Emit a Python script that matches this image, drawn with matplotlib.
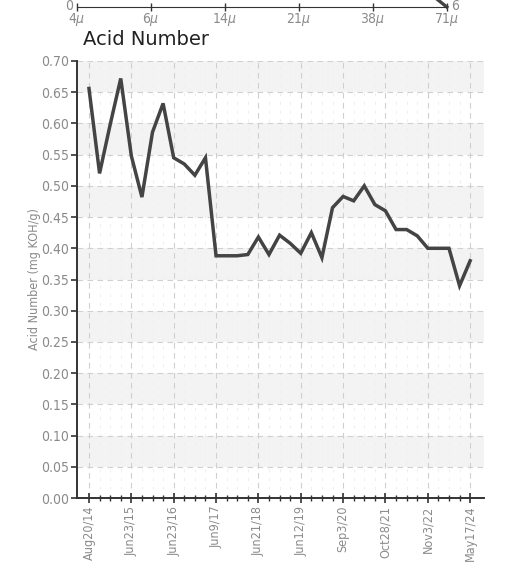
import matplotlib.pyplot as plt
from matplotlib.ticker import MultipleLocator, FixedLocator

# acid number readings (mg KOH/g), one per sample
acid = [0.656, 0.520, 0.598, 0.672, 0.548, 0.482, 0.586, 0.632, 0.545, 0.535,
        0.517, 0.545, 0.388, 0.388, 0.388, 0.390, 0.418, 0.390, 0.421, 0.408,
        0.392, 0.425, 0.385, 0.465, 0.483, 0.476, 0.500, 0.470, 0.460, 0.430,
        0.430, 0.420, 0.400, 0.400, 0.400, 0.340, 0.380]
date_labels = ["Aug20/14", "Jun23/15", "Jun23/16", "Jun9/17", "Jun21/18",
               "Jun12/19", "Sep3/20", "Oct28/21", "Nov3/22", "May17/24"]
label_step = 4

# leftover of the chart above (particle size axis)
upper_labels = ["4$\\mu$", "6$\\mu$", "14$\\mu$", "21$\\mu$", "38$\\mu$", "71$\\mu$"]
upper_line_x = [4.8, 5.0]
upper_line_y = [2.5, 0.0]

plt.rcParams['font.family'] = ['DejaVu Sans']
plt.rcParams['font.stretch'] = 'condensed'
grey = '#8a8a8a'

fig = plt.figure(figsize=(5.08, 5.71), dpi=100)

# ---- main chart
ax = fig.add_axes([0.1516, 0.1278, 0.801, 0.7654])
x = list(range(len(acid)))
ax.set_xlim(-1.13, 37.3)
ax.set_ylim(0, 0.70)

# alternate grey bands
y0 = 0.05
while y0 < 0.70:
    ax.axhspan(y0, y0 + 0.05, color='#f3f3f3', lw=0, zorder=0)
    y0 += 0.10

ax.plot(x, acid, color='#444444', lw=2.5, solid_joinstyle='miter', zorder=3)

ax.yaxis.set_major_locator(MultipleLocator(0.05))
ax.yaxis.set_major_formatter(plt.FuncFormatter(lambda v, p: f"{v:.2f}"))
ax.xaxis.set_major_locator(FixedLocator(list(range(0, len(acid), label_step))))
ax.xaxis.set_minor_locator(FixedLocator(x))
ax.set_xticklabels(date_labels, rotation=90)

ax.grid(axis='y', which='major', color='#d0d0d0', ls=(0, (5, 4)), lw=0.8)
ax.grid(axis='x', which='major', color='#cfcfcf', ls=(0, (5, 4)), lw=0.8)
ax.grid(axis='x', which='minor', color='#eeeeee', ls=(0, (3, 6)), lw=0.7)

ax.tick_params(axis='y', direction='out', length=4, width=1.2, colors='#333333',
               labelcolor=grey, labelsize=10, pad=2)
ax.tick_params(axis='x', which='major', direction='inout', length=7, width=1.2,
               colors='#333333', labelcolor=grey, labelsize=9, pad=2)
ax.tick_params(axis='x', which='minor', direction='inout', length=4, width=1.0,
               colors='#333333')

for s in ['top', 'right']:
    ax.spines[s].set_visible(False)
for s in ['left', 'bottom']:
    ax.spines[s].set_color('#333333')
    ax.spines[s].set_linewidth(1.4)

ax.set_ylabel("Acid Number (mg KOH/g)", color=grey, fontsize=9, labelpad=0)
fig.text(0.163, 0.915, "Acid Number", fontsize=14, color='#222222',
         family='DejaVu Sans', stretch='normal', va='bottom')

# ---- cut-off axis at the very top
ax2 = fig.add_axes([0.1516, 0.9877, 0.728, 0.05])
ax2.set_xlim(0, 5)
ax2.set_ylim(0, 6)
ax2.plot(upper_line_x, upper_line_y, color='#444444', lw=2.4, clip_on=False)
ax2.set_xticks(range(len(upper_labels)))
ax2.set_xticklabels(upper_labels)
ax2.set_yticks([])
ax2.tick_params(axis='x', direction='inout', length=6, width=1.0, colors='#333333',
                labelcolor=grey, labelsize=10, pad=0)
for s in ['top', 'right', 'left']:
    ax2.spines[s].set_visible(False)
ax2.spines['bottom'].set_color('#333333')
ax2.patch.set_alpha(0)
ax2.text(-0.01, 0.3, "0", transform=ax2.get_yaxis_transform(), ha='right', va='center',
         color=grey, fontsize=10)
ax2.text(5.06, 0.3, "6", ha='left', va='center', color=grey, fontsize=10)

fig.savefig("out.png", dpi=100)
